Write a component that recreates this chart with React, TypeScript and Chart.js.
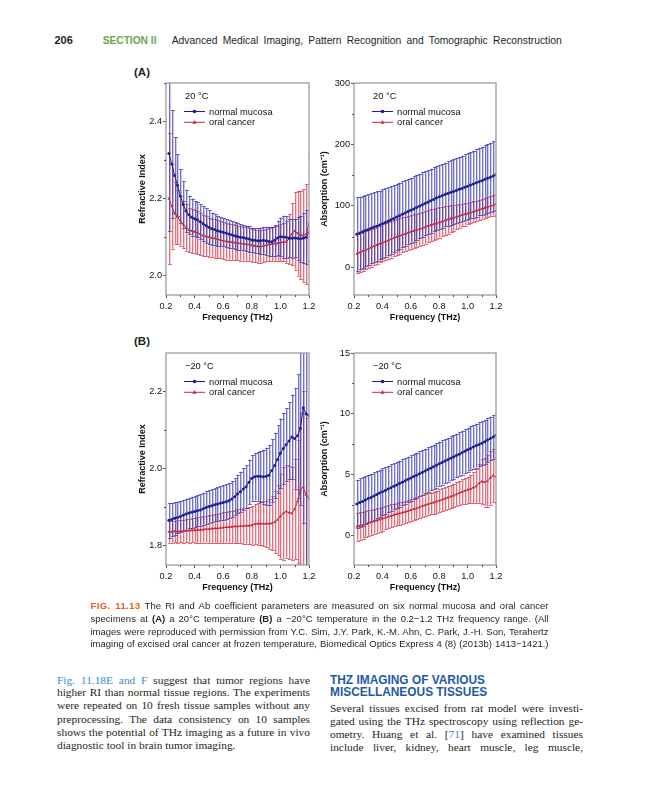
import React, { useEffect, useRef } from "react";
import { Chart, registerables } from "chart.js";

Chart.register(...registerables);
document.body.style.margin = "0";

const SANS = '"Liberation Sans", Arial, Helvetica, sans-serif';
const SERIF = '"Liberation Serif", "Times New Roman", serif';
Chart.defaults.font.family = SANS;

// ---------------- data ----------------
const freqTHz = [0.22,0.24,0.26,0.28,0.30,0.32,0.34,0.36,0.38,0.40,
  0.42,0.44,0.46,0.48,0.50,0.52,0.54,0.56,0.58,0.60,
  0.62,0.64,0.66,0.68,0.70,0.72,0.74,0.76,0.78,0.80,
  0.82,0.84,0.86,0.88,0.90,0.92,0.94,0.96,0.98,1.00,
  1.02,1.04,1.06,1.08,1.10,1.12,1.14,1.16,1.18,1.20];

const xTickLabels = [0.2, 0.4, 0.6, 0.8, 1.0, 1.2];
const riTickLabels20 = [2.0, 2.2, 2.4];
const abTickLabels20 = [0, 100, 200, 300];
const riTickLabelsM20 = [1.8, 2.0, 2.2];
const abTickLabelsM20 = [0, 5, 10, 15];

// (A) 20 °C refractive index
const riNormal20 = [2.317,2.290,2.260,2.235,2.207,2.185,2.168,2.158,2.152,2.148,
  2.145,2.140,2.135,2.130,2.126,2.122,2.120,2.117,2.115,2.113,
  2.111,2.108,2.106,2.104,2.102,2.100,2.099,2.097,2.095,2.093,
  2.092,2.091,2.091,2.092,2.091,2.089,2.088,2.092,2.098,2.101,
  2.101,2.100,2.098,2.097,2.098,2.097,2.096,2.097,2.100,2.113];
const riNormal20Err = [0.200,0.140,0.100,0.080,0.070,0.060,0.055,0.050,0.048,0.046,
  0.045,0.045,0.046,0.045,0.044,0.042,0.040,0.039,0.038,0.037,
  0.036,0.036,0.035,0.035,0.034,0.034,0.033,0.033,0.033,0.032,
  0.032,0.033,0.034,0.035,0.036,0.037,0.038,0.040,0.045,0.050,
  0.055,0.055,0.050,0.050,0.050,0.055,0.060,0.065,0.070,0.075];
const riCancer20 = [2.200,2.180,2.163,2.152,2.143,2.133,2.125,2.119,2.116,2.114,
  2.112,2.108,2.104,2.102,2.100,2.098,2.097,2.095,2.093,2.091,
  2.089,2.088,2.087,2.086,2.085,2.084,2.083,2.082,2.081,2.079,
  2.077,2.076,2.076,2.077,2.079,2.081,2.082,2.083,2.084,2.086,
  2.087,2.088,2.095,2.108,2.116,2.110,2.106,2.104,2.108,2.135];
const riCancer20Err = [0.170,0.110,0.080,0.070,0.065,0.062,0.060,0.058,0.057,0.056,
  0.055,0.054,0.053,0.052,0.051,0.050,0.050,0.049,0.048,0.048,
  0.047,0.047,0.046,0.046,0.045,0.045,0.044,0.044,0.043,0.043,
  0.042,0.042,0.042,0.042,0.042,0.043,0.044,0.045,0.046,0.048,
  0.050,0.055,0.065,0.080,0.100,0.110,0.115,0.120,0.130,0.170];

// (A) 20 °C absorption
const abNormal20 = [54,56,58,60,61.5,63.5,65.5,67,69,71,
  73,75,77.5,79.5,82,84,86.5,88.5,91,93,
  95,97.5,99.5,102,104,106,108.5,110.5,113,115,
  116.5,118.5,120,122,123.5,125,127,128.5,130.5,132,
  134,135.5,137.5,139.5,141,143,145,146.5,148.5,151];
const abNormal20Err = [60,59,58.5,58,57.5,57,57,56.5,56,56,
  55.5,55,55,54.5,54,54,53.5,53.5,53,53,
  53,52.5,52.5,52.5,52,52,52,52,52,52,
  52,52,52.5,52.5,53,53,53,53.5,53.5,54,
  54,54.5,55,55,55.5,56,56,56.5,57,57.5];
const abCancer20 = [22,24,26,28,30,32,34,36,38,40,
  42,43.5,45.5,47.5,49.5,51,53,54.5,56,57.5,
  59,60.5,62,63.5,65,67,68.5,70,71.5,73,
  74.5,76,77.5,79,80.5,82,83.5,85,86,87.5,
  89,90.5,92,93.5,95,96.5,98,99.5,101,103];
const abCancer20Err = [32,32,31.5,31.5,31,31,30.5,30.5,30,30,
  30,29.5,29.5,29,29,28.5,28.5,28,28,27.5,
  27.5,27,27,26.5,26.5,26,26,25.5,25,24.5,
  24,23.5,23,22,21,20,19,18.5,18,17.5,
  17,17,16.5,16.5,16,16,16,16.5,17,17];

// (B) -20 °C refractive index
const riNormalM20 = [1.866,1.868,1.871,1.873,1.876,1.879,1.882,1.885,1.887,1.889,
  1.891,1.893,1.896,1.899,1.902,1.904,1.906,1.908,1.910,1.912,
  1.914,1.917,1.921,1.927,1.934,1.940,1.947,1.953,1.965,1.975,
  1.979,1.980,1.980,1.979,1.980,1.983,1.995,2.008,2.024,2.040,
  2.052,2.062,2.072,2.082,2.078,2.085,2.105,2.158,2.142,2.138];
const riNormalM20Err = [0.045,0.043,0.042,0.041,0.040,0.040,0.040,0.040,0.040,0.040,
  0.040,0.041,0.041,0.042,0.042,0.043,0.043,0.044,0.044,0.045,
  0.045,0.046,0.047,0.048,0.050,0.052,0.054,0.056,0.058,0.060,
  0.062,0.064,0.066,0.070,0.074,0.078,0.082,0.085,0.088,0.090,
  0.092,0.095,0.100,0.110,0.130,0.160,0.200,0.300,0.400,0.400];
const riCancerM20 = [1.836,1.836,1.837,1.837,1.838,1.838,1.839,1.839,1.840,1.840,
  1.841,1.841,1.842,1.843,1.843,1.844,1.845,1.845,1.846,1.847,
  1.848,1.848,1.849,1.850,1.850,1.851,1.851,1.852,1.852,1.853,
  1.856,1.857,1.857,1.857,1.857,1.857,1.858,1.861,1.867,1.876,
  1.884,1.889,1.886,1.884,1.895,1.915,1.945,1.952,1.932,1.922];
const riCancerM20Err = [0.028,0.028,0.028,0.029,0.029,0.030,0.030,0.031,0.031,0.032,
  0.033,0.034,0.034,0.035,0.036,0.037,0.037,0.038,0.039,0.040,
  0.040,0.041,0.042,0.043,0.044,0.045,0.046,0.047,0.048,0.050,
  0.052,0.054,0.056,0.058,0.060,0.065,0.070,0.080,0.090,0.110,
  0.120,0.120,0.120,0.120,0.130,0.160,0.200,0.250,0.200,0.180];

// (B) -20 °C absorption
const abNormalM20 = [2.60,2.72,2.82,2.93,3.05,3.15,3.27,3.38,3.50,3.62,
  3.72,3.84,3.95,4.06,4.17,4.28,4.40,4.51,4.63,4.74,
  4.86,4.97,5.08,5.20,5.31,5.43,5.55,5.66,5.78,5.90,
  6.01,6.13,6.24,6.36,6.47,6.59,6.70,6.82,6.94,7.05,
  7.17,7.29,7.40,7.50,7.60,7.72,7.85,7.98,8.10,8.25];
const abNormalM20Err = [2.00,2.00,1.98,1.97,1.96,1.95,1.95,1.94,1.93,1.92,
  1.92,1.91,1.90,1.90,1.89,1.88,1.88,1.87,1.87,1.86,
  1.86,1.85,1.85,1.84,1.84,1.83,1.83,1.82,1.82,1.82,
  1.81,1.81,1.80,1.80,1.80,1.80,1.80,1.80,1.80,1.80,
  1.80,1.80,1.80,1.80,1.80,1.80,1.80,1.80,1.80,1.80];
const abCancerM20 = [0.75,0.80,0.85,0.95,1.02,1.10,1.18,1.25,1.32,1.40,
  1.48,1.56,1.63,1.70,1.77,1.83,1.90,1.96,2.03,2.10,
  2.18,2.25,2.33,2.42,2.50,2.58,2.65,2.72,2.80,2.88,
  2.96,3.04,3.12,3.20,3.30,3.40,3.50,3.60,3.68,3.76,
  3.85,3.95,4.05,4.30,4.45,4.40,4.50,4.75,4.95,4.80];
const abCancerM20Err = [1.15,1.13,1.10,1.08,1.06,1.04,1.02,1.00,0.98,0.97,
  0.96,0.95,0.94,0.93,0.92,0.92,0.91,0.91,0.90,0.90,
  0.90,0.90,0.90,0.90,0.90,0.90,0.90,0.91,0.91,0.92,
  0.93,0.94,0.95,0.96,0.97,0.98,1.00,1.02,1.05,1.10,
  1.15,1.25,1.40,1.60,1.85,2.00,2.10,2.20,2.20,2.10];

// ---------------- chart helpers ----------------
const BLUE = "#1e1e8c";
const RED = "#c42a3c";

function matchTick(list: number[], v: number) {
  return list.find((t) => Math.abs(t - v) < 1e-6);
}

const decorPlugin = {
  id: "decor",
  beforeDatasetsDraw(chart: any) {
    const { ctx, chartArea: a, scales } = chart;
    const ys = scales.y;
    ctx.save();
    ctx.beginPath();
    ctx.rect(a.left, a.top, a.right - a.left, a.bottom - a.top);
    ctx.clip();
    for (let d = chart.data.datasets.length - 1; d >= 0; d--) {
      const ds: any = chart.data.datasets[d];
      const meta = chart.getDatasetMeta(d);
      const errs: number[] = ds.errors;
      meta.data.forEach((pt: any, i: number) => {
        const v = ds.data[i].y;
        const e = errs[i];
        const x = Math.round(pt.x) + 0.5;
        const yt = ys.getPixelForValue(v + e);
        const yb = ys.getPixelForValue(v - e);
        ctx.lineWidth = 1;
        ctx.strokeStyle = ds.errLight;
        ctx.beginPath();
        ctx.moveTo(x + 1, yt);
        ctx.lineTo(x + 1, yb);
        ctx.stroke();
        ctx.strokeStyle = ds.errDark;
        ctx.beginPath();
        ctx.moveTo(x, yt);
        ctx.lineTo(x, yb);
        ctx.moveTo(x - 1.5, Math.round(yt) + 0.5);
        ctx.lineTo(x + 2.5, Math.round(yt) + 0.5);
        ctx.moveTo(x - 1.5, Math.round(yb) + 0.5);
        ctx.lineTo(x + 2.5, Math.round(yb) + 0.5);
        ctx.stroke();
      });
    }
    ctx.restore();
  },
  afterDatasetsDraw(chart: any, _args: any, opts: any) {
    const { ctx, chartArea: a, scales } = chart;
    ctx.save();
    // frame
    ctx.strokeStyle = "#9c9c9c";
    ctx.lineWidth = 1.3;
    ctx.strokeRect(a.left, a.top, a.right - a.left, a.bottom - a.top);
    // minor ticks
    ctx.strokeStyle = "#555";
    ctx.lineWidth = 1;
    ctx.beginPath();
    scales.x.ticks.forEach((t: any) => {
      if (t.label === "") {
        const px = Math.round(scales.x.getPixelForValue(t.value)) + 0.5;
        ctx.moveTo(px, a.bottom);
        ctx.lineTo(px, a.bottom + 2);
      }
    });
    scales.y.ticks.forEach((t: any) => {
      if (t.label === "") {
        const py = Math.round(scales.y.getPixelForValue(t.value)) + 0.5;
        ctx.moveTo(a.left - 2, py);
        ctx.lineTo(a.left, py);
      }
    });
    ctx.stroke();
    // legend
    const x0 = a.left + 18;
    ctx.fillStyle = "#111";
    ctx.font = `9.3px ${SANS}`;
    ctx.textBaseline = "middle";
    ctx.textAlign = "left";
    ctx.fillText(opts.temp, x0 + 1, a.top + 13.5);
    chart.data.datasets.forEach((ds: any, i: number) => {
      const y = a.top + 28.5 + i * 10.8;
      ctx.strokeStyle = ds.borderColor;
      ctx.fillStyle = ds.borderColor;
      ctx.lineWidth = 1;
      ctx.beginPath();
      ctx.moveTo(x0, y);
      ctx.lineTo(x0 + 21, y);
      ctx.stroke();
      const mx = x0 + 10.5;
      ctx.beginPath();
      if (ds.pointStyle === "triangle") {
        ctx.moveTo(mx, y - 2.2);
        ctx.lineTo(mx - 2, y + 1.4);
        ctx.lineTo(mx + 2, y + 1.4);
        ctx.closePath();
      } else {
        ctx.arc(mx, y, 1.8, 0, Math.PI * 2);
      }
      ctx.fill();
      ctx.fillStyle = "#111";
      ctx.fillText(ds.label, x0 + 25, y + 0.5);
    });
    ctx.restore();
  },
};

type Spec = {
  normal: number[];
  normalErr: number[];
  cancer: number[];
  cancerErr: number[];
  yMin: number;
  yMax: number;
  yStep: number;
  yLabels: number[];
  yDecimals: number;
  yTitle: string;
  temp: string;
  yWidth: number;
  yTitlePad: number;
  padRight: number;
};

function buildConfig(s: Spec): any {
  const tickFont = { family: SANS, size: 9.2 };
  const titleFont = { family: SANS, size: 9, weight: "bold" as const };
  return {
    type: "line",
    data: {
      datasets: [
        {
          label: "normal mucosa",
          data: freqTHz.map((f, i) => ({ x: f, y: s.normal[i] })),
          errors: s.normalErr,
          errDark: "rgba(62,62,178,0.72)",
          errLight: "rgba(155,155,222,0.55)",
          borderColor: BLUE,
          backgroundColor: BLUE,
          borderWidth: 1,
          pointStyle: "circle",
          pointRadius: 1.5,
          pointBorderWidth: 0,
        },
        {
          label: "oral cancer",
          data: freqTHz.map((f, i) => ({ x: f, y: s.cancer[i] })),
          errors: s.cancerErr,
          errDark: "rgba(210,62,80,0.72)",
          errLight: "rgba(240,160,172,0.55)",
          borderColor: RED,
          backgroundColor: RED,
          borderWidth: 1,
          pointStyle: "triangle",
          pointRadius: 1.7,
          pointBorderWidth: 0,
        },
      ],
    },
    options: {
      responsive: false,
      animation: false,
      events: [],
      layout: { padding: { top: 21, right: s.padRight, bottom: 0, left: 0 } },
      plugins: {
        legend: { display: false },
        tooltip: { enabled: false },
        decor: { temp: s.temp },
      },
      scales: {
        x: {
          type: "linear",
          min: 0.2,
          max: 1.2,
          ticks: {
            stepSize: 0.1,
            includeBounds: false,
            autoSkip: false,
            maxRotation: 0,
            padding: 3,
            color: "#111",
            font: tickFont,
            callback: (v: number) => {
              const m = matchTick(xTickLabels, v);
              return m === undefined ? "" : m.toFixed(1);
            },
          },
          grid: {
            drawOnChartArea: false,
            drawTicks: true,
            tickLength: 3,
            tickWidth: 1,
            tickColor: (c: any) => (c.tick && c.tick.label === "" ? "rgba(0,0,0,0)" : "#555"),
          },
          border: { display: false },
          title: {
            display: true,
            text: "Frequency (THz)",
            color: "#111",
            font: titleFont,
            padding: { top: 0, bottom: 6.6 },
          },
          afterFit: (sc: any) => {
            sc.height = 35;
            sc.paddingLeft = 0;
            sc.paddingRight = 0;
          },
        },
        y: {
          type: "linear",
          min: s.yMin,
          max: s.yMax,
          ticks: {
            stepSize: s.yStep,
            includeBounds: false,
            autoSkip: false,
            padding: 1,
            color: "#111",
            font: tickFont,
            callback: (v: number) => {
              const m = matchTick(s.yLabels, v);
              return m === undefined ? "" : m.toFixed(s.yDecimals);
            },
          },
          grid: {
            drawOnChartArea: false,
            drawTicks: true,
            tickLength: 3,
            tickWidth: 1,
            tickColor: (c: any) => (c.tick && c.tick.label === "" ? "rgba(0,0,0,0)" : "#555"),
          },
          border: { display: false },
          title: {
            display: true,
            text: s.yTitle,
            color: "#111",
            font: titleFont,
            padding: { top: s.yTitlePad, bottom: 0 },
          },
          afterFit: (sc: any) => {
            sc.width = s.yWidth;
            sc.paddingTop = 0;
            sc.paddingBottom = 0;
          },
        },
      },
    },
    plugins: [decorPlugin],
  };
}

function Panel(props: { spec: Spec; left: number; top: number; width: number; height: number }) {
  const ref = useRef<HTMLCanvasElement>(null);
  useEffect(() => {
    const chart = new Chart(ref.current as HTMLCanvasElement, buildConfig(props.spec));
    return () => chart.destroy();
  }, []);
  return (
    <canvas
      ref={ref}
      width={props.width}
      height={props.height}
      style={{ position: "absolute", left: props.left, top: props.top, width: props.width, height: props.height }}
    />
  );
}

const ABS_TITLE = "Absorption (cm\u207B\u00B9)";

const specA1: Spec = {
  normal: riNormal20, normalErr: riNormal20Err, cancer: riCancer20, cancerErr: riCancer20Err,
  yMin: 1.95, yMax: 2.5, yStep: 0.1, yLabels: riTickLabels20, yDecimals: 1,
  yTitle: "Refractive Index", temp: "20 \u00B0C", yWidth: 48, yTitlePad: 19.6, padRight: 7,
};
const specA2: Spec = {
  normal: abNormal20, normalErr: abNormal20Err, cancer: abCancer20, cancerErr: abCancer20Err,
  yMin: -45, yMax: 300, yStep: 50, yLabels: abTickLabels20, yDecimals: 0,
  yTitle: ABS_TITLE, temp: "20 \u00B0C", yWidth: 38, yTitlePad: 3.6, padRight: 14,
};
const specB1: Spec = {
  normal: riNormalM20, normalErr: riNormalM20Err, cancer: riCancerM20, cancerErr: riCancerM20Err,
  yMin: 1.75, yMax: 2.3, yStep: 0.1, yLabels: riTickLabelsM20, yDecimals: 1,
  yTitle: "Refractive Index", temp: "\u221220 \u00B0C", yWidth: 48, yTitlePad: 19.6, padRight: 7,
};
const specB2: Spec = {
  normal: abNormalM20, normalErr: abNormalM20Err, cancer: abCancerM20, cancerErr: abCancerM20Err,
  yMin: -2.4, yMax: 15, yStep: 2.5, yLabels: abTickLabelsM20, yDecimals: 0,
  yTitle: ABS_TITLE, temp: "\u221220 \u00B0C", yWidth: 38, yTitlePad: 3.6, padRight: 14,
};

// ---------------- text helpers ----------------
function TLine(props: {
  cy: number; left: number; width?: number; size: number; lh?: number; family?: string;
  weight?: any; color?: string; justify?: boolean; children: any; spacing?: number;
}) {
  const lh = props.lh ?? 13;
  const j = props.justify !== false && props.width !== undefined;
  return (
    <div
      style={{
        position: "absolute",
        left: props.left,
        top: props.cy - lh / 2,
        width: props.width,
        fontFamily: props.family ?? SERIF,
        fontSize: props.size,
        lineHeight: `${lh}px`,
        fontWeight: props.weight ?? "normal",
        color: props.color ?? "#231f20",
        textAlign: j ? "justify" : "left",
        textAlignLast: j ? "justify" : "left",
        letterSpacing: props.spacing ?? 0,
        whiteSpace: props.width === undefined ? "nowrap" : "normal",
      } as any}
    >
      {props.children}
    </div>
  );
}

const LINK = "#3a8cc8";
const HEAD_BLUE = "#1d5aa6";

export default function App() {
  const capTop = [605, 618.2, 631, 643.8];
  const leftCol = [680, 692.9, 705.9, 719, 732, 745.2];
  const rightCol = [708.3, 721.5, 734.4, 747.4];
  return (
    <div style={{ position: "relative", width: 648, height: 800, background: "#fff", overflow: "hidden" }}>
      {/* page header */}
      <TLine cy={40} left={54.5} size={11} family={SANS} weight="bold">206</TLine>
      <TLine cy={40} left={102.7} size={10.2} family={SANS} weight="bold" color="#66a84a">SECTION II</TLine>
      <TLine cy={40} left={171.7} width={390} size={10.3} family={SANS}>
        Advanced Medical Imaging, Pattern Recognition and Tomographic Reconstruction
      </TLine>

      {/* panel labels */}
      <TLine cy={72} left={134} size={11.5} family={SANS} weight="bold">(A)</TLine>
      <TLine cy={341} left={134} size={11.5} family={SANS} weight="bold">(B)</TLine>

      <Panel spec={specA1} left={118} top={62} width={198} height={268} />
      <Panel spec={specA2} left={316} top={62} width={194} height={268} />
      <Panel spec={specB1} left={118} top={332} width={198} height={268} />
      <Panel spec={specB2} left={316} top={332} width={194} height={268} />

      {/* caption */}
      <TLine cy={capTop[0]} left={90.5} width={458} size={9.5} family={SANS}>
        <span style={{ color: "#ef5a24", fontWeight: "bold", letterSpacing: 0.4 }}>FIG. 11.13</span> The RI and Ab coefficient parameters are measured on six normal mucosa and oral cancer
      </TLine>
      <TLine cy={capTop[1]} left={90.5} width={458} size={9.5} family={SANS}>
        specimens at <b>(A)</b> a 20°C temperature <b>(B)</b> a −20°C temperature in the 0.2−1.2 THz frequency range. (All
      </TLine>
      <TLine cy={capTop[2]} left={90.5} width={458} size={9.5} family={SANS}>
        images were reproduced with permission from Y.C. Sim, J.Y. Park, K.-M. Ahn, C. Park, J.-H. Son, Terahertz
      </TLine>
      <TLine cy={capTop[3]} left={90.5} width={458} size={9.5} family={SANS}>
        imaging of excised oral cancer at frozen temperature, Biomedical Optics Express 4 (8) (2013b) 1413−1421.)
      </TLine>

      {/* left column */}
      <TLine cy={leftCol[0]} left={57} width={253} size={11.4}>
        <span style={{ color: LINK }}>Fig. 11.18E and F</span> suggest that tumor regions have
      </TLine>
      <TLine cy={leftCol[1]} left={57} width={253} size={11.4}>higher RI than normal tissue regions. The experiments</TLine>
      <TLine cy={leftCol[2]} left={57} width={253} size={11.4}>were repeated on 10 fresh tissue samples without any</TLine>
      <TLine cy={leftCol[3]} left={57} width={253} size={11.4}>preprocessing. The data consistency on 10 samples</TLine>
      <TLine cy={leftCol[4]} left={57} width={253} size={11.4}>shows the potential of THz imaging as a future in vivo</TLine>
      <TLine cy={leftCol[5]} left={57} size={11.4}>diagnostic tool in brain tumor imaging.</TLine>

      {/* right column */}
      <TLine cy={680} left={330} size={11.9} family={SANS} weight="bold" color={HEAD_BLUE} lh={13}>
        THZ IMAGING OF VARIOUS
      </TLine>
      <TLine cy={692.7} left={330} size={11.9} family={SANS} weight="bold" color={HEAD_BLUE} lh={13}>
        MISCELLANEOUS TISSUES
      </TLine>
      <TLine cy={rightCol[0]} left={330} width={253} size={11.4}>Several tissues excised from rat model were investi-</TLine>
      <TLine cy={rightCol[1]} left={330} width={253} size={11.4}>gated using the THz spectroscopy using reflection ge-</TLine>
      <TLine cy={rightCol[2]} left={330} width={253} size={11.4}>
        ometry. Huang et al. [<span style={{ color: LINK }}>71</span>] have examined tissues
      </TLine>
      <TLine cy={rightCol[3]} left={330} width={253} size={11.4}>include liver, kidney, heart muscle, leg muscle,</TLine>
    </div>
  );
}
